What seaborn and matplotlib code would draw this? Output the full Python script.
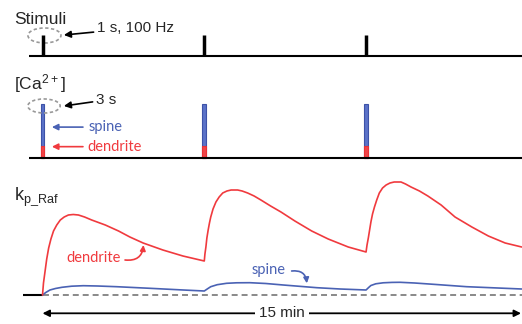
import matplotlib
matplotlib.use('Agg')
import matplotlib.pyplot as plt
import seaborn as sns
from matplotlib.patches import Ellipse

# time in minutes, k_p_Raf in arbitrary units
stim_times = [0, 5, 10]
stim_amp = [1, 1, 1]

ca_times = [0, 5, 10]
spine_ca = [4.5, 4.5, 4.5]
dendrite_ca = [1.0, 1.0, 1.0]

red_t = [0, 0.03, 0.08, 0.13, 0.19, 0.26, 0.34, 0.44, 0.55, 0.67, 0.80, 0.95, 1.11,
         1.30, 1.52, 1.94, 2.35, 2.70, 3.11, 3.72, 4.34, 5.0,
         5.02, 5.05, 5.08, 5.12, 5.16, 5.20, 5.27, 5.36, 5.46, 5.57, 5.70, 5.83, 6.03,
         6.17, 6.34, 6.54, 6.75, 7.05, 7.37, 7.80, 8.32, 8.83, 9.45, 10.0,
         10.03, 10.07, 10.11, 10.15, 10.20, 10.26, 10.33, 10.41, 10.51, 10.62, 10.74,
         10.87, 11.08, 11.22, 11.39, 11.65, 11.91, 12.32, 12.75, 13.27, 13.78, 14.30,
         14.81]
red_kp = [0, 1.2, 2.4, 3.6, 4.7, 5.6, 6.4, 7.0, 7.5, 7.8, 8.0, 8.05, 8.0,
          7.8, 7.5, 7.0, 6.4, 5.8, 5.2, 4.5, 3.9, 3.4,
          4.1, 4.8, 5.7, 6.5, 7.2, 7.8, 8.6, 9.3, 9.8, 10.2, 10.4, 10.5, 10.5,
          10.4, 10.2, 9.9, 9.5, 8.9, 8.3, 7.4, 6.4, 5.6, 4.8, 4.3,
          5.0, 5.7, 6.5, 7.3, 8.1, 8.8, 9.5, 10.2, 10.7, 11.0, 11.2,
          11.3, 11.3, 11.1, 10.8, 10.4, 9.9, 9.0, 7.8, 6.8, 5.9, 5.2,
          4.8]

blue_t = [0, 0.1, 0.23, 0.4, 0.6, 0.9, 1.26, 1.7, 2.29, 3.32, 4.35, 5.0,
          5.1, 5.2, 5.4, 5.69, 6.0, 6.41, 6.9, 7.44, 8.48, 9.2, 10.0,
          10.08, 10.15, 10.3, 10.53, 10.8, 11.05, 11.5, 12.08, 13.11, 14.81]
blue_kp = [0, 0.25, 0.5, 0.65, 0.77, 0.88, 0.93, 0.9, 0.83, 0.67, 0.5, 0.4,
           0.62, 0.83, 1.03, 1.17, 1.22, 1.23, 1.15, 1.0, 0.73, 0.6, 0.5,
           0.75, 0.95, 1.12, 1.22, 1.26, 1.27, 1.2, 1.07, 0.83, 0.6]

red = '#F03A3E'
blue = '#4A62B4'

sns.set_theme(style='white')
plt.rcParams['font.family'] = ['Liberation Sans', 'DejaVu Sans']
plt.rcParams['mathtext.default'] = 'regular'

fig = plt.figure(figsize=(5.22, 3.24), dpi=100)
ax1 = fig.add_axes([0, 259 / 324, 1, 65 / 324])
ax2 = fig.add_axes([0, 154 / 324, 1, 105 / 324])
ax3 = fig.add_axes([0, 0, 1, 154 / 324])
xmin, xmax = -1.314, 14.82
for ax in (ax1, ax2, ax3):
    ax.set_xlim(xmin, xmax)
    ax.axis('off')
ax1.set_ylim(-0.4286, 2.667)
ax2.set_ylim(-0.975, 7.775)
ax3.set_ylim(-2.9, 12.5)

label_font = 'Lato'

# Stimuli panel
ax1.hlines(0, -0.42, xmax, color='black', lw=1.5)
ax1.vlines(stim_times, 0, stim_amp, color='black', lw=2.5)
ax1.add_patch(Ellipse((0.06, 0.976), 1.02, 0.714, fill=False, ec='#999999',
                      ls=(0, (2, 1.5)), lw=1.2, clip_on=False))
ax1.annotate('1 s, 100 Hz', xy=(0.66, 1.0), xytext=(1.68, 1.33), fontsize=11,
             va='center', ha='left',
             arrowprops=dict(arrowstyle='-|>', color='black', lw=1.2,
                             mutation_scale=10, shrinkA=0, shrinkB=0))
fig.text(14 / 522, 1 - 24 / 324, 'Stimuli', fontsize=12.5, va='baseline')

# Calcium panel
ax2.bar(ca_times, spine_ca, width=0.12, color='#5B72C8', edgecolor='#3D52A8', lw=0.8)
ax2.bar(ca_times, dendrite_ca, width=0.12, color='#F04448', edgecolor='#E83236', lw=0.8)
ax2.hlines(0, -0.42, xmax, color='black', lw=1.5)
ax2.add_patch(Ellipse((0.046, 4.36), 1.0, 1.17, fill=False, ec='#999999',
                      ls=(0, (2, 1.5)), lw=1.2, clip_on=False))
ax2.annotate('3 s', xy=(0.66, 4.36), xytext=(1.65, 4.86), fontsize=11,
             va='center', ha='left',
             arrowprops=dict(arrowstyle='-|>', color='black', lw=1.2,
                             mutation_scale=10, shrinkA=0, shrinkB=0))
ax2.annotate('', xy=(0.29, 2.6), xytext=(1.25, 2.6),
             arrowprops=dict(arrowstyle='-|>', color=blue, lw=1.2,
                             mutation_scale=9, shrinkA=0, shrinkB=0))
ax2.text(1.41, 2.6, 'spine', color=blue, fontsize=10.5, va='center',
         family=label_font)
ax2.annotate('', xy=(0.29, 0.97), xytext=(1.25, 0.97),
             arrowprops=dict(arrowstyle='-|>', color=red, lw=1.2,
                             mutation_scale=9, shrinkA=0, shrinkB=0))
ax2.text(1.38, 0.97, 'dendrite', color=red, fontsize=10.5, va='center',
         family=label_font)
fig.text(14 / 522, 1 - 89 / 324, '[Ca$^{2+}$]', fontsize=12.5, va='baseline')

# k_p_Raf panel
ax3.hlines(0, 0, xmax, colors='#808080', linestyles=(0, (3.3, 2.2)), lw=1.3)
ax3.hlines(0, -0.6, 0, colors='black', lw=1.5)
sns.lineplot(x=blue_t, y=blue_kp, ax=ax3, color=blue, lw=1.2,
             estimator=None, sort=False)
sns.lineplot(x=red_t, y=red_kp, ax=ax3, color=red, lw=1.2,
             estimator=None, sort=False)
ax3.annotate('', xy=(0, -1.83), xytext=(14.79, -1.83),
             arrowprops=dict(arrowstyle='<|-|>', color='black', lw=1.3,
                             mutation_scale=10, shrinkA=0, shrinkB=0))
ax3.text(7.4, -1.83, '15 min', fontsize=11, ha='center', va='center',
         bbox=dict(fc='white', ec='none', pad=3))
ax3.text(0.75, 3.7, 'dendrite', color=red, fontsize=10.5, va='center',
         family=label_font)
ax3.annotate('', xy=(3.12, 5.0), xytext=(2.55, 3.5),
             arrowprops=dict(arrowstyle='-|>', color=red, lw=1.2, mutation_scale=8,
                             shrinkA=0, shrinkB=0, connectionstyle='arc3,rad=0.5'))
ax3.text(6.47, 2.5, 'spine', color=blue, fontsize=10.5, va='center',
         family=label_font)
ax3.annotate('', xy=(8.17, 1.17), xytext=(7.70, 2.4),
             arrowprops=dict(arrowstyle='-|>', color=blue, lw=1.2, mutation_scale=8,
                             shrinkA=0, shrinkB=0, connectionstyle='arc3,rad=-0.5'))
fig.text(14 / 522, 1 - 200 / 324, 'k$_{p\\_Raf}$', fontsize=13, va='baseline')

fig.savefig('out.png', dpi=100)
